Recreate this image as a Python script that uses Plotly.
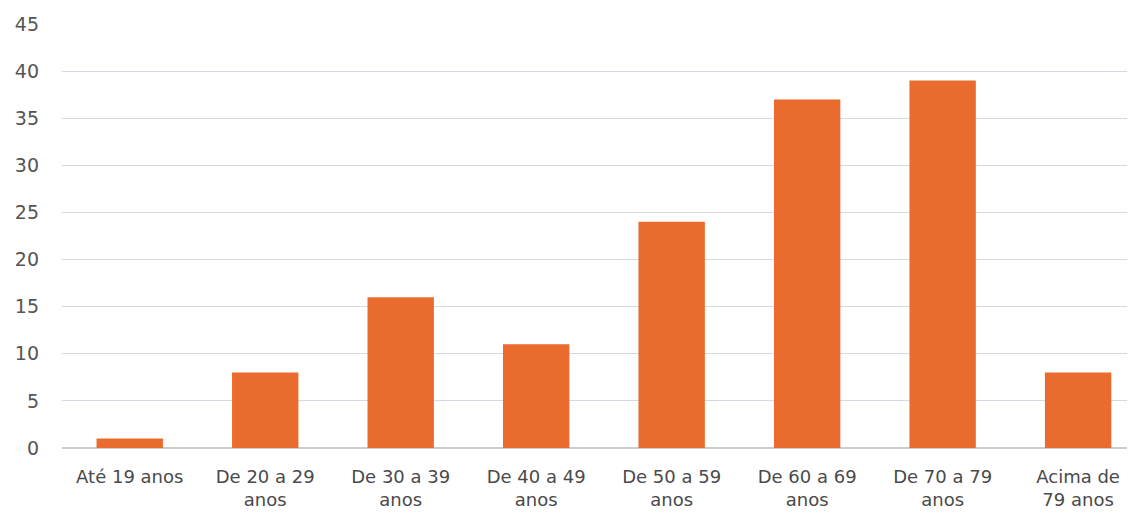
import plotly.graph_objects as go

categories = ["Até 19 anos", "De 20 a 29<br>anos", "De 30 a 39<br>anos", "De 40 a 49<br>anos",
              "De 50 a 59<br>anos", "De 60 a 69<br>anos", "De 70 a 79<br>anos", "Acima de<br>79 anos"]
values = [1, 8, 16, 11, 24, 37, 39, 8]
y_ticks = [0, 5, 10, 15, 20, 25, 30, 35, 40, 45]

fig = go.Figure()
fig.add_trace(go.Bar(
    x=list(range(len(categories))),
    y=values,
    width=0.49,
    marker=dict(color="#EA6B2E", line=dict(width=0)),
))

fig.update_layout(
    width=1135, height=517,
    margin=dict(l=54, r=8, t=16, b=77, autoexpand=False),
    paper_bgcolor="white", plot_bgcolor="white",
    font=dict(family="DejaVu Sans, Liberation Sans, Arial, sans-serif", color="#555555"),
    showlegend=False,
)
fig.update_xaxes(
    tickmode="array", tickvals=list(range(len(categories))), ticktext=categories,
    range=[-0.5, 7.42], showgrid=False, zeroline=False, showline=False,
    tickfont=dict(size=18, color="#4A4A4A"), ticks="", ticklabelstandoff=16,
    automargin=False,
)
fig.update_yaxes(
    range=[0, 45], tickvals=y_ticks, showgrid=True, gridcolor="#D5DAE2", gridwidth=1.2,
    zeroline=True, zerolinecolor="#C8CDD4", zerolinewidth=1.5, showline=False,
    tickfont=dict(size=19, color="#555555"), ticks="", ticklabelstandoff=22,
    automargin=False,
)

fig.write_html("out.html")
